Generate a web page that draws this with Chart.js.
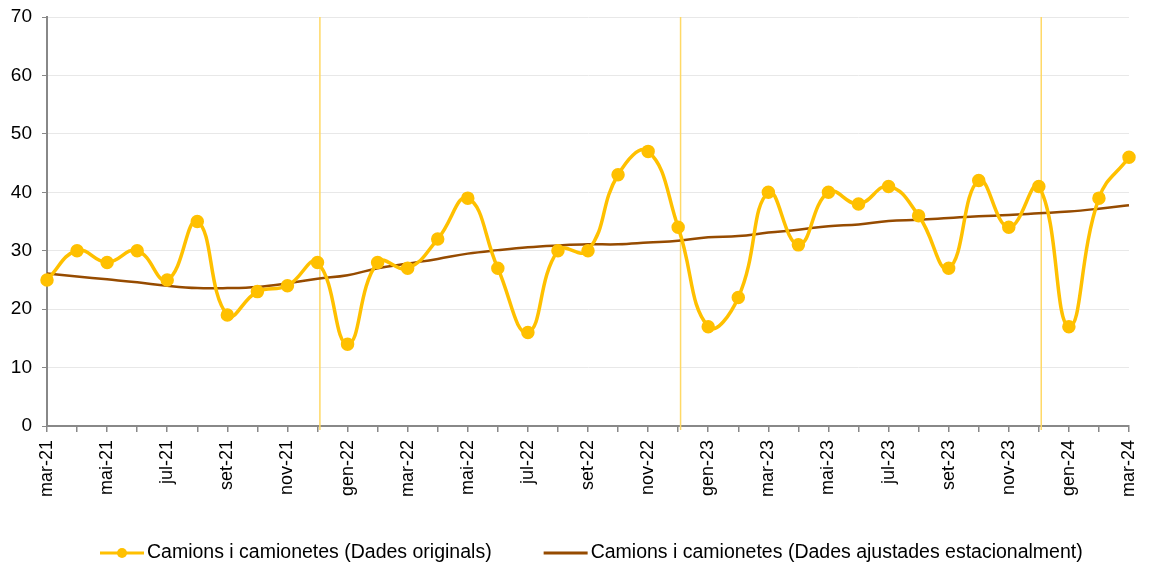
<!DOCTYPE html>
<html>
<head>
<meta charset="utf-8">
<script src="https://cdn.jsdelivr.net/npm/chart.js@4.4.1/dist/chart.umd.min.js"></script>
<style>
  body { margin: 0; background: #fff; }
  #wrap { width: 1150px; height: 570px; }
</style>
</head>
<body>
<div id="wrap"><canvas id="chart"></canvas></div>
<script>
// mesos, de mar-21 a mar-24
const mesos = ['mar-21','abr-21','mai-21','jun-21','jul-21','ago-21','set-21','oct-21','nov-21','des-21',
  'gen-22','feb-22','mar-22','abr-22','mai-22','jun-22','jul-22','ago-22','set-22','oct-22','nov-22','des-22',
  'gen-23','feb-23','mar-23','abr-23','mai-23','jun-23','jul-23','ago-23','set-23','oct-23','nov-23','des-23',
  'gen-24','feb-24','mar-24'];

const originals = [25,30,28,30,25,35,19,23,24,28,
  14,28,27,32,39,27,16,30,30,43,47,34,
  17,22,40,31,40,38,41,36,27,42,34,41,
  17,39,46];

const ajustades = [26.1,25.6,25.1,24.6,24.0,23.6,23.6,23.8,24.4,25.2,
  25.8,27.0,27.8,28.6,29.5,30.1,30.6,30.9,31.1,31.1,31.4,31.7,
  32.3,32.5,33.1,33.6,34.2,34.5,35.1,35.3,35.6,35.9,36.1,36.4,
  36.7,37.2,37.8];

const marquesAny = ['des-21','des-22','des-23'];

const groc = '#FFC000';
const marro = '#964B00';
const lletra = 'Liberation Sans, Arial, sans-serif';

const liniesVerticals = {
  id: 'liniesVerticals',
  beforeDatasetsDraw(chart){
    const x = chart.scales.x, area = chart.chartArea, ctx = chart.ctx;
    ctx.save();
    ctx.strokeStyle = '#FFD966';
    ctx.lineWidth = 1.5;
    marquesAny.forEach(m => {
      const px = x.getPixelForValue(mesos.indexOf(m) + 0.08);
      ctx.beginPath();
      ctx.moveTo(px, area.top);
      ctx.lineTo(px, area.bottom + 4);
      ctx.stroke();
    });
    ctx.restore();
  }
};

// llegenda a mà, per poder separar els elements com a l'original
const llegenda = {
  id: 'llegenda',
  afterDraw(chart){
    const ctx = chart.ctx;
    const y = 553;
    let x = 100;
    ctx.save();
    ctx.font = '19.5px ' + lletra;
    ctx.textBaseline = 'middle';
    chart.data.datasets.forEach((d, i) => {
      ctx.strokeStyle = d.borderColor;
      ctx.lineWidth = 3;
      ctx.beginPath(); ctx.moveTo(x, y); ctx.lineTo(x + 44, y); ctx.stroke();
      if (d.pointRadius > 0){
        ctx.fillStyle = d.borderColor;
        ctx.beginPath(); ctx.arc(x + 22, y, 5, 0, Math.PI * 2); ctx.fill();
      }
      ctx.fillStyle = '#000';
      ctx.fillText(d.label, x + 47, y);
      x += 47 + ctx.measureText(d.label).width + 52;
    });
    ctx.restore();
  }
};

new Chart(document.getElementById('chart'), {
  type: 'line',
  data: {
    labels: mesos,
    datasets: [
      {
        label: 'Camions i camionetes (Dades originals)',
        data: originals,
        borderColor: groc,
        backgroundColor: groc,
        borderWidth: 3.5,
        pointStyle: 'circle',
        pointRadius: 5,
        pointHoverRadius: 5,
        tension: 0.45
      },
      {
        label: 'Camions i camionetes (Dades ajustades estacionalment)',
        data: ajustades,
        borderColor: marro,
        backgroundColor: marro,
        borderWidth: 2.5,
        pointRadius: 0,
        tension: 0.4
      }
    ]
  },
  options: {
    responsive: true,
    maintainAspectRatio: false,
    animation: false,
    layout: { padding: { top: 17, right: 21, left: 0, bottom: 36 } },
    plugins: {
      tooltip: { enabled: false },
      legend: { display: false }
    },
    scales: {
      x: {
        offset: false,
        grid: { drawOnChartArea: false, drawTicks: true, tickLength: 6, tickColor: '#888', lineWidth: 1.5 },
        border: { color: '#888', width: 2 },
        ticks: {
          autoSkip: false,
          minRotation: 90,
          maxRotation: 90,
          color: '#000',
          padding: 8,
          font: { family: lletra, size: 18 },
          callback: function(v, i){ return i % 2 === 0 ? mesos[i] : ''; }
        },
        afterFit(scale){
          scale.height = 108;
          scale.paddingLeft = 0;
          scale.paddingRight = 0;
        }
      },
      y: {
        min: 0,
        max: 70,
        ticks: {
          stepSize: 10,
          color: '#000',
          padding: 10,
          font: { family: lletra, size: 19 }
        },
        grid: { color: '#e8e8e8', tickColor: '#888', tickLength: 5 },
        border: { color: '#888', width: 2 },
        afterFit(scale){
          scale.width = 47;
          scale.paddingTop = 0;
          scale.paddingBottom = 0;
        }
      }
    }
  },
  plugins: [liniesVerticals, llegenda]
});
</script>
</body>
</html>
